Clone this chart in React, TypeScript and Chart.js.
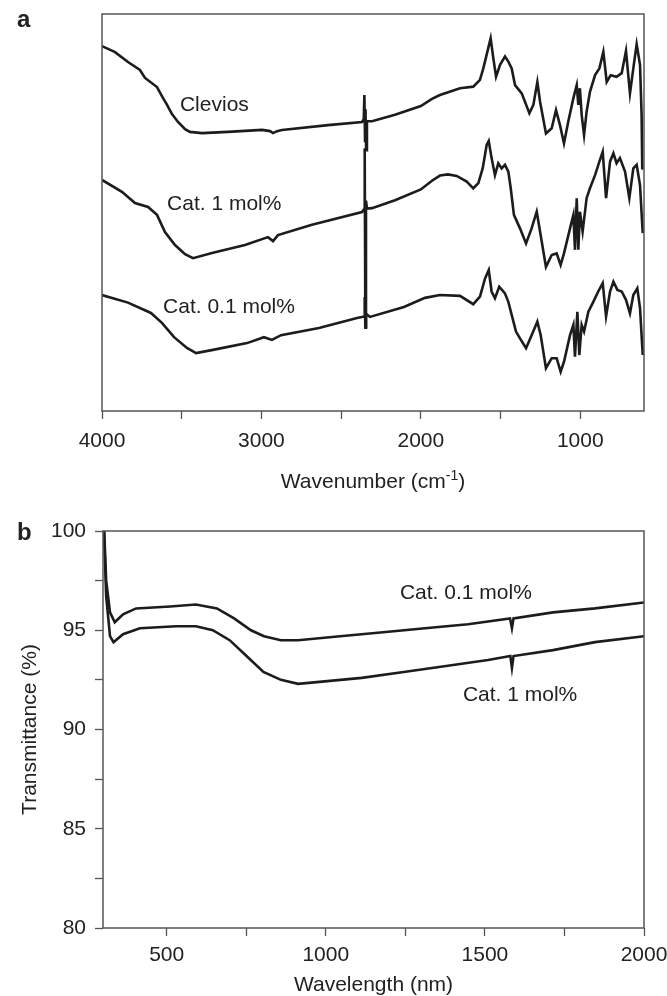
import React, { useEffect, useRef } from 'react';
import { Chart, registerables } from 'chart.js';

Chart.register(...registerables);

const FONT = '"Liberation Sans", Arial, Helvetica, sans-serif';
const INK = '#1c1c1c';
const TEXT = '#222222';
const AXIS = '#555555';

// ---------- Panel a: FTIR spectra (arbitrary transmittance units, offset curves) ----------
const clevWn = [4000, 3918, 3837, 3762, 3730, 3655, 3624, 3592, 3561, 3523, 3479, 3448, 3373, 3210, 2996, 2946, 2927, 2902, 2871, 2582, 2369, 2358, 2354, 2350, 2347, 2343, 2338, 2306, 2162, 2000, 1930, 1880, 1754, 1671, 1629, 1608, 1577, 1562, 1545, 1528, 1503, 1472, 1451, 1430, 1409, 1367, 1319, 1294, 1269, 1252, 1215, 1179, 1152, 1127, 1102, 1075, 1043, 1022, 1012, 1002, 991, 976, 960, 939, 907, 880, 855, 834, 809, 772, 740, 713, 688, 667, 646, 625, 615, 611, 604];
const clevT = [91.9, 90.4, 87.9, 85.9, 83.9, 81.6, 79.3, 77.1, 74.8, 72.8, 71.0, 70.3, 70.0, 70.3, 70.8, 70.5, 70.0, 70.5, 70.8, 72.0, 72.8, 73.5, 79.6, 68.0, 76.0, 65.7, 73.0, 73.0, 74.6, 76.8, 78.6, 79.6, 81.3, 81.7, 83.4, 86.3, 91.4, 93.9, 88.8, 84.2, 87.2, 89.3, 88.0, 86.3, 82.1, 80.0, 75.0, 77.1, 82.9, 77.9, 69.9, 71.2, 75.8, 72.0, 67.4, 72.9, 78.8, 82.1, 77.1, 81.3, 74.6, 69.5, 75.4, 80.4, 84.6, 86.3, 90.5, 82.9, 84.6, 84.2, 85.1, 90.7, 80.0, 86.3, 92.4, 87.2, 74.6, 61.1, 61.0];

const cat1Wn = [4000, 3875, 3793, 3711, 3655, 3605, 3542, 3479, 3429, 3310, 3103, 2959, 2927, 2896, 2683, 2369, 2356, 2352, 2348, 2344, 2338, 2306, 2162, 2000, 1930, 1880, 1830, 1775, 1712, 1671, 1639, 1612, 1587, 1574, 1556, 1535, 1514, 1493, 1472, 1451, 1436, 1416, 1378, 1340, 1305, 1273, 1252, 1215, 1179, 1148, 1123, 1102, 1064, 1043, 1033, 1022, 1012, 1002, 985, 960, 939, 907, 880, 859, 838, 813, 792, 772, 751, 719, 692, 667, 646, 625, 608];
const cat1T = [58.2, 55.2, 52.4, 51.4, 49.4, 45.1, 41.8, 39.5, 38.5, 39.8, 41.8, 43.8, 42.8, 44.3, 46.9, 50.1, 50.8, 66.2, 21.0, 53.0, 51.0, 51.1, 53.1, 55.8, 58.0, 59.3, 59.6, 59.2, 57.8, 56.1, 57.4, 61.1, 67.0, 68.0, 63.7, 59.4, 62.4, 61.1, 62.0, 60.3, 56.1, 49.4, 46.0, 42.2, 46.0, 50.2, 45.2, 36.3, 39.3, 39.7, 36.8, 39.7, 46.0, 49.4, 40.6, 53.6, 40.6, 50.2, 45.2, 53.6, 56.1, 59.4, 62.8, 65.3, 53.6, 62.8, 64.9, 62.4, 63.7, 60.3, 53.6, 61.1, 62.0, 56.9, 44.8];

const cat01Wn = [4000, 3837, 3693, 3624, 3548, 3467, 3410, 3304, 3090, 2984, 2934, 2877, 2639, 2400, 2356, 2352, 2348, 2344, 2319, 2106, 1974, 1880, 1754, 1671, 1629, 1597, 1574, 1556, 1535, 1508, 1472, 1451, 1430, 1403, 1378, 1340, 1305, 1269, 1248, 1215, 1179, 1148, 1123, 1102, 1064, 1043, 1033, 1018, 1006, 991, 976, 949, 918, 887, 859, 838, 813, 792, 767, 740, 713, 688, 667, 642, 625, 608];
const cat01T = [29.2, 27.3, 24.7, 22.2, 18.6, 15.9, 14.6, 15.4, 17.1, 18.6, 17.9, 19.1, 20.9, 23.4, 23.8, 28.7, 21.2, 24.5, 23.7, 26.2, 28.5, 29.2, 29.0, 26.9, 28.8, 33.4, 35.5, 30.1, 28.4, 31.3, 29.6, 27.5, 24.2, 20.0, 18.3, 15.8, 19.1, 22.5, 19.1, 10.8, 13.3, 13.3, 9.9, 12.4, 19.1, 21.7, 13.7, 25.0, 14.1, 21.7, 20.0, 25.0, 27.5, 30.1, 32.2, 23.8, 30.1, 32.6, 30.5, 30.1, 28.0, 24.6, 29.2, 30.9, 25.9, 14.1];

const ftirTicks = [4000, 3500, 3000, 2500, 2000, 1500, 1000];
const ftirLabelled = [4000, 3000, 2000, 1000];

// ---------- Panel b: transmittance spectra ----------
const uv01Wl = [300, 310, 322, 337, 363, 404, 511, 592, 658, 712, 765, 806, 859, 913, 1045, 1180, 1312, 1447, 1579, 1585, 1590, 1714, 1846, 2000];
const uv01T = [101.5, 97.5, 95.9, 95.4, 95.8, 96.1, 96.2, 96.3, 96.1, 95.6, 95.0, 94.7, 94.5, 94.5, 94.7, 94.9, 95.1, 95.3, 95.6, 95.1, 95.6, 95.9, 96.1, 96.4];

const uv1Wl = [300, 310, 322, 333, 363, 416, 530, 592, 645, 698, 751, 804, 859, 913, 980, 1113, 1245, 1378, 1510, 1580, 1585, 1590, 1714, 1846, 2000];
const uv1T = [101.5, 96.7, 94.7, 94.4, 94.8, 95.1, 95.2, 95.2, 95.0, 94.5, 93.7, 92.9, 92.5, 92.3, 92.4, 92.6, 92.9, 93.2, 93.5, 93.7, 93.1, 93.7, 94.0, 94.4, 94.7];

const uvXTicks = [500, 750, 1000, 1250, 1500, 1750, 2000];
const uvYTicks = [80, 82.5, 85, 87.5, 90, 92.5, 95, 97.5, 100];

const toPoints = (xs: number[], ys: number[]) =>
  xs.slice(0, Math.min(xs.length, ys.length)).map((x, i) => ({ x, y: ys[i] }));

const lineDs = (label: string, data: { x: number; y: number }[]) => ({
  label,
  data,
  borderColor: INK,
  backgroundColor: INK,
  borderWidth: 2.6,
  pointRadius: 0,
  tension: 0,
  fill: false,
});

const framePlugin = {
  id: 'frameAndText',
  afterDraw(chart: any, _args: any, opts: any) {
    const { ctx, chartArea: ca, scales } = chart;
    ctx.save();
    ctx.strokeStyle = AXIS;
    ctx.lineWidth = 1.5;
    ctx.strokeRect(ca.left, ca.top, ca.right - ca.left, ca.bottom - ca.top);

    ctx.fillStyle = TEXT;
    ctx.font = `21px ${FONT}`;
    ctx.textAlign = 'left';
    ctx.textBaseline = 'middle';
    for (const n of opts.notes || []) {
      ctx.fillText(n.text, scales.x.getPixelForValue(n.x), scales.y.getPixelForValue(n.y));
    }

    if (opts.letter) {
      ctx.font = `bold 24px ${FONT}`;
      ctx.textBaseline = 'alphabetic';
      ctx.fillText(opts.letter.text, opts.letter.x, opts.letter.y);
    }

    if (opts.supTitle) {
      const t = opts.supTitle;
      ctx.textBaseline = 'alphabetic';
      ctx.font = `21px ${FONT}`;
      const w1 = ctx.measureText(t.main).width;
      const w3 = ctx.measureText(t.tail).width;
      ctx.font = `14px ${FONT}`;
      const w2 = ctx.measureText(t.sup).width;
      const total = w1 + w2 + w3;
      let x = (ca.left + ca.right) / 2 - total / 2;
      ctx.font = `21px ${FONT}`;
      ctx.fillText(t.main, x, t.baseline);
      x += w1;
      ctx.font = `14px ${FONT}`;
      ctx.fillText(t.sup, x, t.baseline - 8);
      x += w2;
      ctx.font = `21px ${FONT}`;
      ctx.fillText(t.tail, x, t.baseline);
    }
    ctx.restore();
  },
};

const tickFont = { family: FONT, size: 21 };

export default function App() {
  const refA = useRef<HTMLCanvasElement>(null);
  const refB = useRef<HTMLCanvasElement>(null);

  useEffect(() => {
    if (!refA.current || !refB.current) return;

    const chartA = new Chart(refA.current, {
      type: 'line',
      data: {
        datasets: [
          lineDs('Clevios', toPoints(clevWn, clevT)),
          lineDs('Cat. 1 mol%', toPoints(cat1Wn, cat1T)),
          lineDs('Cat. 0.1 mol%', toPoints(cat01Wn, cat01T)),
        ],
      },
      options: {
        animation: false,
        responsive: false,
        devicePixelRatio: 1,
        events: [],
        layout: { padding: { left: 0, top: 14, right: 23, bottom: 0 } },
        plugins: {
          legend: { display: false },
          tooltip: { enabled: false },
          frameAndText: {
            notes: [
              { text: 'Clevios', x: 3511, y: 77.1 },
              { text: 'Cat. 1 mol%', x: 3592, y: 52.1 },
              { text: 'Cat. 0.1 mol%', x: 3617, y: 26.2 },
            ],
            letter: { text: 'a', x: 17, y: 27 },
            supTitle: { main: 'Wavenumber (cm', sup: '-1', tail: ')', baseline: 488 },
          },
        } as any,
        scales: {
          x: {
            type: 'linear',
            reverse: true,
            min: 600,
            max: 4000,
            afterBuildTicks: (s: any) => {
              s.ticks = ftirTicks.map((value) => ({ value }));
            },
            afterFit: (s: any) => {
              s.height = 87;
              s.paddingLeft = 0;
              s.paddingRight = 0;
            },
            ticks: {
              autoSkip: false,
              maxRotation: 0,
              padding: 10,
              color: TEXT,
              font: tickFont,
              callback: (v: any) => (ftirLabelled.includes(Number(v)) ? String(v) : ''),
            },
            grid: { display: true, drawOnChartArea: false, drawTicks: true, tickLength: 8, tickColor: AXIS, tickWidth: 1.3 },
            border: { display: false },
          },
          y: {
            type: 'linear',
            min: 0,
            max: 100,
            afterFit: (s: any) => {
              s.width = 102;
              s.paddingTop = 0;
              s.paddingBottom = 0;
            },
            ticks: { display: false },
            grid: { display: false },
            border: { display: false },
          },
        },
      },
      plugins: [framePlugin],
    } as any);

    const chartB = new Chart(refB.current, {
      type: 'line',
      data: {
        datasets: [
          lineDs('Cat. 0.1 mol%', toPoints(uv01Wl, uv01T)),
          lineDs('Cat. 1 mol%', toPoints(uv1Wl, uv1T)),
        ],
      },
      options: {
        animation: false,
        responsive: false,
        devicePixelRatio: 1,
        events: [],
        layout: { padding: { left: 0, top: 33, right: 23, bottom: 0 } },
        plugins: {
          legend: { display: false },
          tooltip: { enabled: false },
          frameAndText: {
            notes: [
              { text: 'Cat. 0.1 mol%', x: 1233, y: 96.88 },
              { text: 'Cat. 1 mol%', x: 1431, y: 91.74 },
            ],
            letter: { text: 'b', x: 17, y: 42 },
          },
        } as any,
        scales: {
          x: {
            type: 'linear',
            min: 300,
            max: 2000,
            afterBuildTicks: (s: any) => {
              s.ticks = uvXTicks.map((value) => ({ value }));
            },
            afterFit: (s: any) => {
              s.height = 68;
              s.paddingLeft = 0;
              s.paddingRight = 0;
            },
            ticks: {
              autoSkip: false,
              maxRotation: 0,
              padding: 7,
              color: TEXT,
              font: tickFont,
              callback: (v: any) => (Number(v) % 500 === 0 ? String(v) : ''),
            },
            grid: { display: true, drawOnChartArea: false, drawTicks: true, tickLength: 8, tickColor: AXIS, tickWidth: 1.3 },
            border: { display: false },
            title: {
              display: true,
              text: 'Wavelength (nm)',
              color: TEXT,
              font: { family: FONT, size: 21, lineHeight: 1.05 },
              padding: { top: 0, bottom: 0 },
            },
          },
          y: {
            type: 'linear',
            min: 80,
            max: 100,
            afterBuildTicks: (s: any) => {
              s.ticks = uvYTicks.map((value) => ({ value }));
            },
            afterFit: (s: any) => {
              s.width = 103;
              s.paddingTop = 0;
              s.paddingBottom = 0;
            },
            ticks: {
              autoSkip: false,
              padding: 9,
              color: TEXT,
              font: tickFont,
              callback: (v: any) => (Number(v) % 5 === 0 ? String(v) : ''),
            },
            grid: { display: true, drawOnChartArea: false, drawTicks: true, tickLength: 8, tickColor: AXIS, tickWidth: 1.3 },
            border: { display: false },
            title: {
              display: true,
              text: 'Transmittance (%)',
              color: TEXT,
              font: { family: FONT, size: 21, lineHeight: 1.2 },
              padding: { top: 17.4, bottom: 0 },
            },
          },
        },
      },
      plugins: [framePlugin],
    } as any);

    return () => {
      chartA.destroy();
      chartB.destroy();
    };
  }, []);

  return (
    <div style={{ position: 'absolute', left: 0, top: 0, width: 667, height: 996, background: '#ffffff' }}>
      <canvas
        ref={refA}
        width={667}
        height={498}
        style={{ position: 'absolute', left: 0, top: 0, width: 667, height: 498, display: 'block' }}
      />
      <canvas
        ref={refB}
        width={667}
        height={498}
        style={{ position: 'absolute', left: 0, top: 498, width: 667, height: 498, display: 'block' }}
      />
    </div>
  );
}
